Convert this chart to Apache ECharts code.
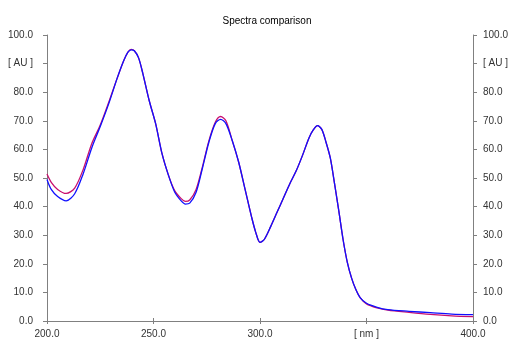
<!DOCTYPE html>
<html>
<head>
<meta charset="utf-8">
<script src="https://cdn.jsdelivr.net/npm/echarts@6/dist/echarts.min.js"></script>
<style>html,body{margin:0;padding:0;background:#fff;}#c{width:512px;height:339px;}</style>
</head>
<body>
<div id="c"></div>
<script>
const wavelengths = [200,202,205,209,213,217,221,225,229,233,236,238,239.5,241,243,245,248,251,254,257,260,263,265,267,270,273,276,279,281.5,284,287,290,293,296,298,300,302,305,308,311,314,317,320,323,325,327,329,331,333,335,337,339,341,343,345,347,350,355,360,370,380,390,400];
const blueValues = [49.5,46,43.5,42,44.5,51.5,60.5,68,76,85,91,94,94.8,94.5,92,86.5,77,69,58.5,51,45,42,40.9,41.2,45,53.5,62.5,69,70.5,69,63,55.5,46,36.5,31,27.5,28.5,33,38,43,48,52.5,58,64,66.8,68.3,67,62.5,57,48,38.5,28.5,20.5,15,11,8.2,6.2,4.8,4,3.4,2.9,2.4,2.2];
const redValues = [51.4,48.5,46,44.6,46.5,53,62,68.5,76.5,85,91,94,95,94.5,92,86.5,77,69,58.5,51,45.5,42.8,41.8,42.3,46,54,63,69.5,71.5,70,63,55.5,46,36.5,31,27.5,28.5,33,38,43,48,52.5,58,64,66.8,68.3,67,62.5,57,48,38.5,28.5,20.5,15,11,8.2,6,4.6,3.8,3.0,2.3,1.8,1.5];
const xTickLabels = {200:'200.0',250:'250.0',300:'300.0',350:'[ nm ]',400:'400.0'};
const yTickLabels = {0:'0.0',10:'10.0',20:'20.0',30:'30.0',40:'40.0',50:'50.0',60:'60.0',70:'70.0',80:'80.0',90:'[ AU ]',100:'100.0'};
const titleText = 'Spectra comparison';

const pair = (xs, ys) => xs.map((x, i) => [x, ys[i]]);
const axisGray = '#808080';
const labelStyle = {color:'#333', fontSize:10, fontFamily:'Liberation Sans, Arial, sans-serif'};

const chart = echarts.init(document.getElementById('c'), null, {renderer:'canvas'});
chart.setOption({
  animation:false,
  title:{text:titleText, left:262, top:11, textAlign:'center',
    textStyle:{fontSize:10, fontWeight:'normal', color:'#000', fontFamily:'Liberation Sans, Arial, sans-serif'}},
  grid:{left:47, right:39, top:35, bottom:18, containLabel:false},
  xAxis:[
    {type:'value', min:200, max:400, interval:50, position:'bottom',
     axisLine:{show:true, lineStyle:{color:axisGray}},
     axisTick:{show:true, length:3, lineStyle:{color:axisGray}},
     axisLabel:Object.assign({margin:8, formatter:v => xTickLabels[v] ?? ''}, labelStyle),
     splitLine:{show:false}},
    {type:'value', min:200, max:400, interval:50, position:'top',
     axisLine:{show:true, lineStyle:{color:axisGray}},
     axisTick:{show:true, length:3, lineStyle:{color:axisGray}},
     axisLabel:{show:false}, splitLine:{show:false}}
  ],
  yAxis:[
    {type:'value', min:0, max:100, interval:10, position:'left',
     axisLine:{show:true, lineStyle:{color:axisGray}},
     axisTick:{show:true, length:4, lineStyle:{color:axisGray}},
     axisLabel:Object.assign({margin:14, formatter:v => yTickLabels[v] ?? ''}, labelStyle),
     splitLine:{show:false}},
    {type:'value', min:0, max:100, interval:10, position:'right',
     axisLine:{show:true, lineStyle:{color:axisGray}},
     axisTick:{show:true, length:4, lineStyle:{color:axisGray}},
     axisLabel:Object.assign({margin:10, formatter:v => yTickLabels[v] ?? ''}, labelStyle),
     splitLine:{show:false}}
  ],
  series:[
    {type:'line', name:'red', data:pair(wavelengths, redValues), showSymbol:false, smooth:0.3,
     lineStyle:{color:'#c8106e', width:1.3}, z:2},
    {type:'line', name:'blue', data:pair(wavelengths, blueValues), showSymbol:false, smooth:0.3,
     lineStyle:{color:'#1010ff', width:1.3}, z:3}
  ]
});
</script>
</body>
</html>
